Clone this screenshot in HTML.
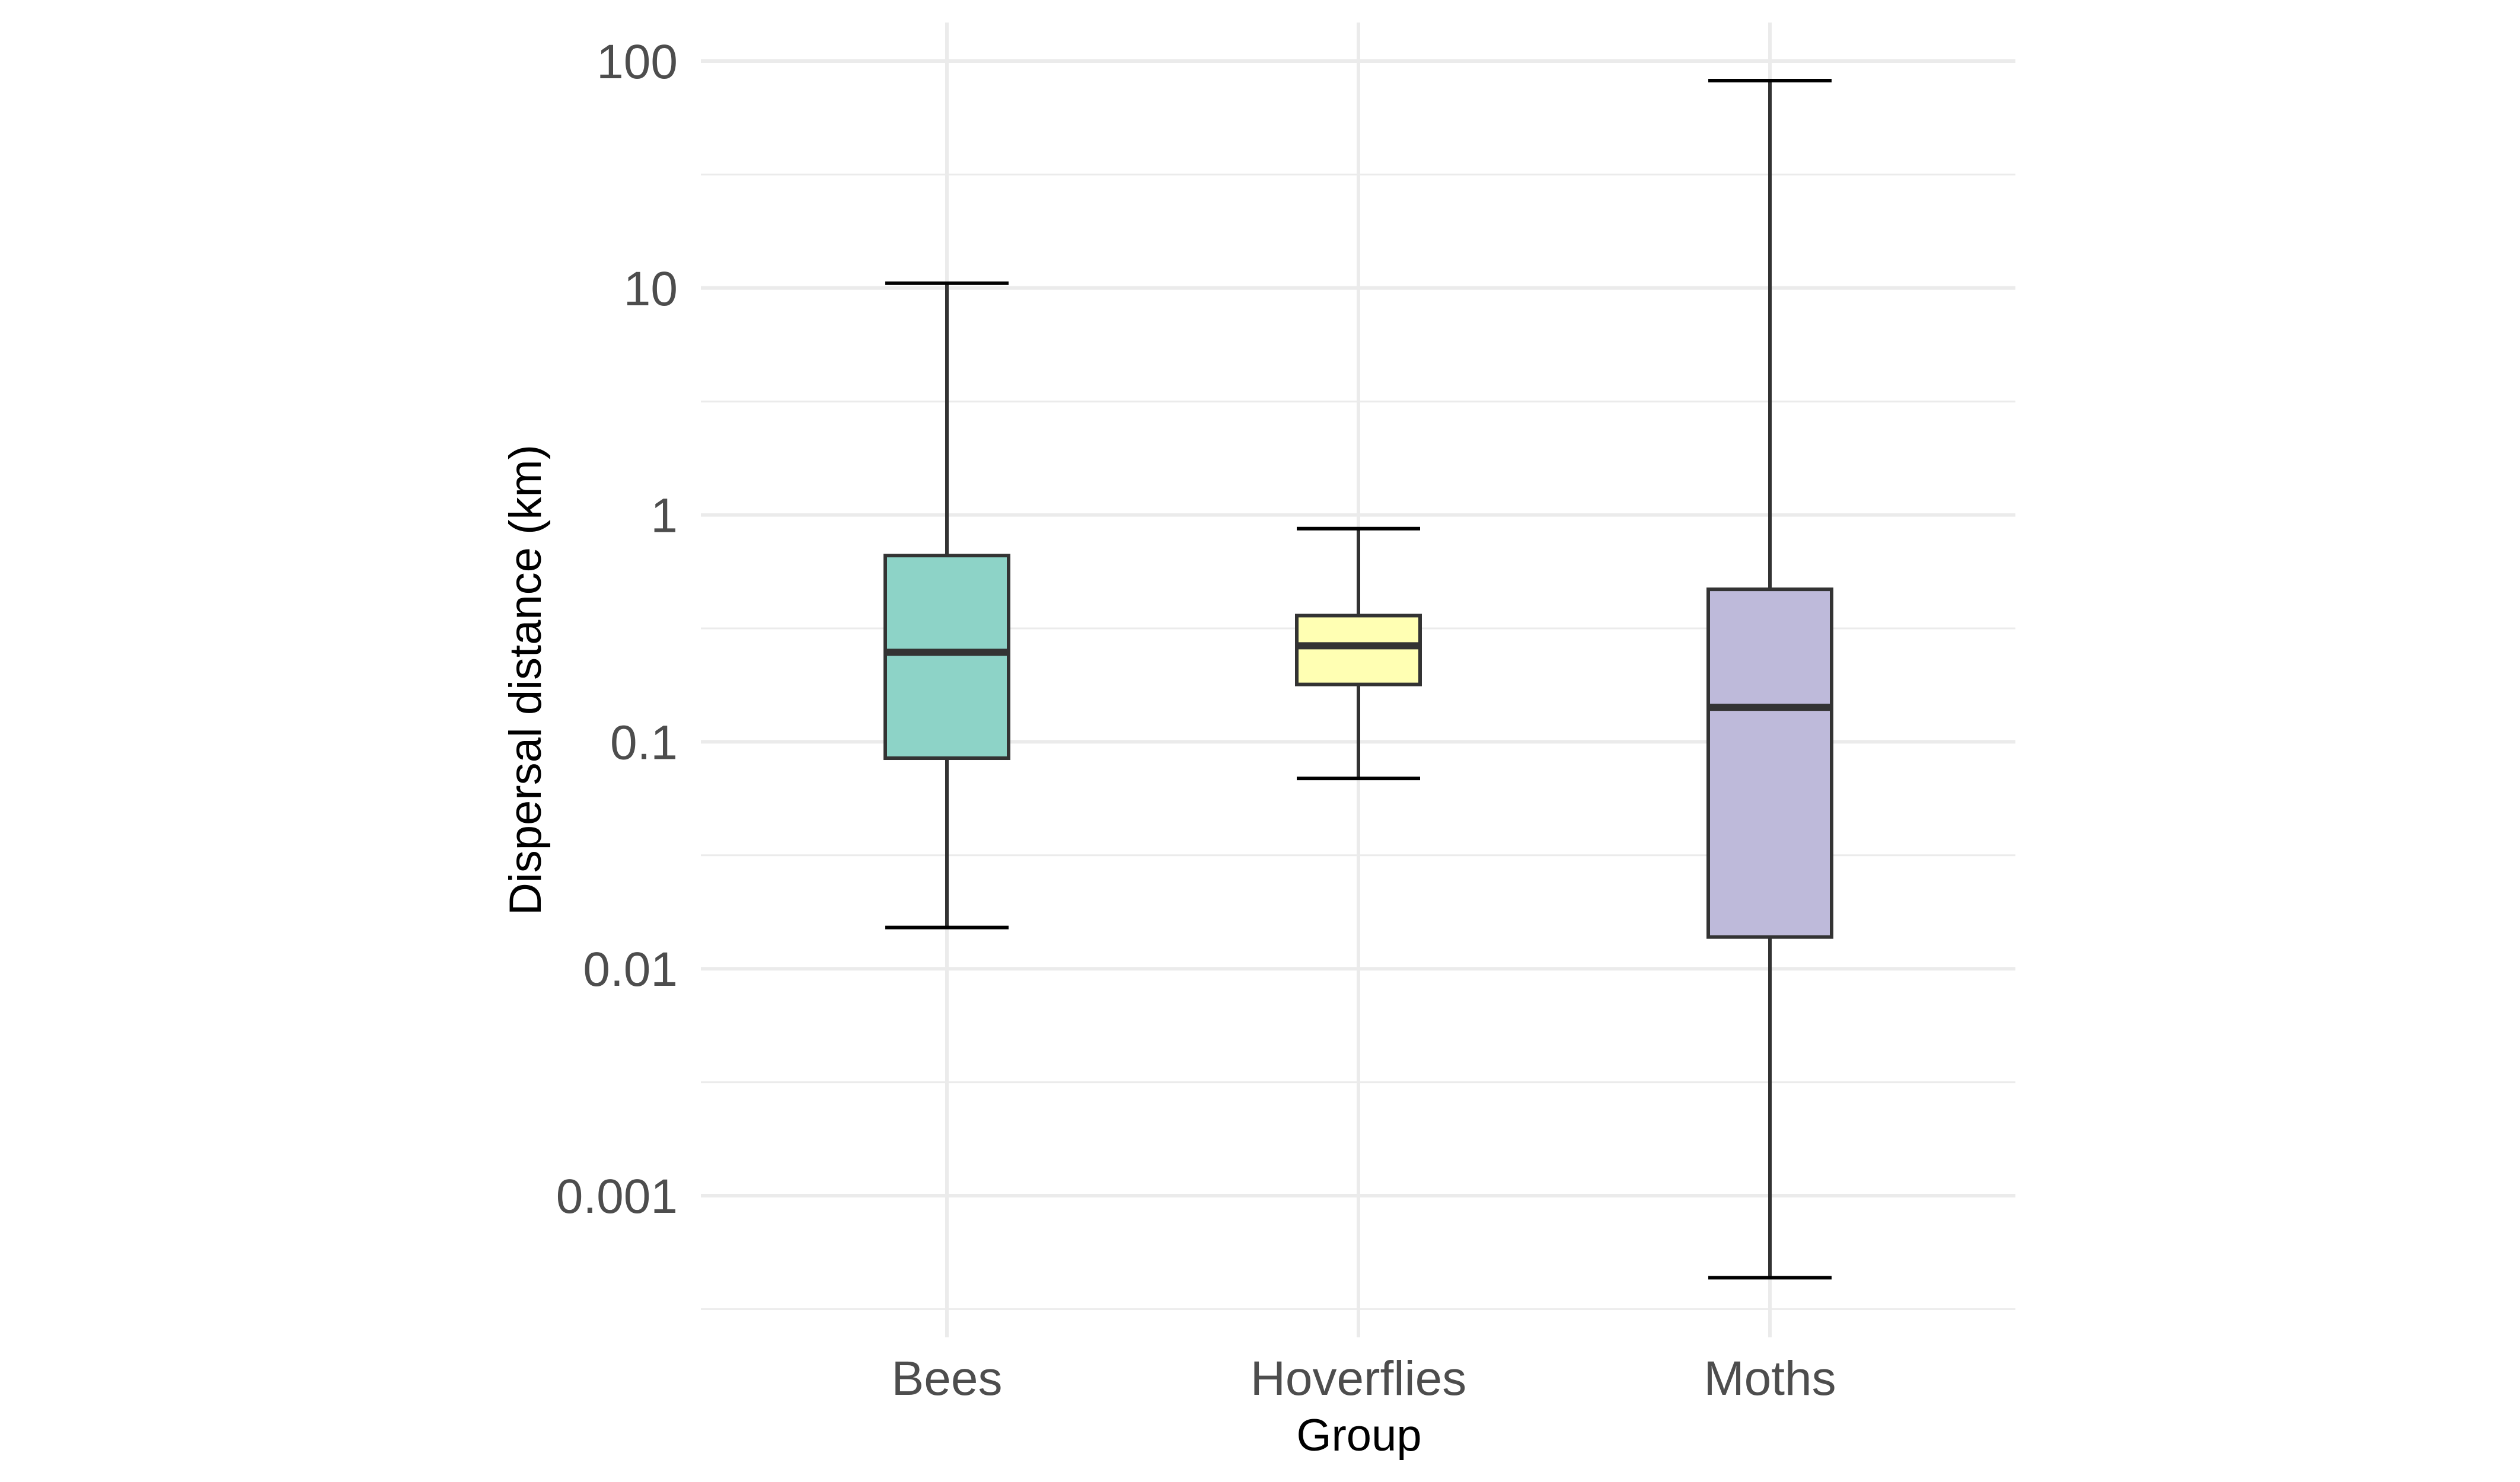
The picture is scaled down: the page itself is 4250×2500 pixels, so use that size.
<!DOCTYPE html>
<html><head><meta charset="utf-8"><style>
html,body{margin:0;padding:0;background:#fff;}
svg{display:block;font-family:"Liberation Sans",Arial,sans-serif;}
</style></head><body>
<svg id="chart" width="4250" height="2500" viewBox="0 0 4250 2500">
<g id="grid"></g>
<g id="boxes"></g>
<g id="axes"></g>
<text x="2292" y="2447" font-size="76" fill="#000" text-anchor="middle">Group</text>
<text x="0" y="0" font-size="76" fill="#000" text-anchor="middle" transform="translate(912,1147) rotate(-90)">Dispersal distance (km)</text>
</svg>
<script>
const categories = ["Bees","Hoverflies","Moths"];
const whiskerLow = [0.0152, 0.069, 0.000435];
const q1 = [0.0847, 0.179, 0.0138];
const median = [0.248, 0.265, 0.142];
const q3 = [0.662, 0.36, 0.47];
const whiskerHigh = [10.5, 0.87, 82];
const fills = ["#8DD3C7","#FFFFB3","#BEBADA"];
const yTicks = [100, 10, 1, 0.1, 0.01, 0.001];
const yTickLabels = ["100","10","1","0.1","0.01","0.001"];

const NS = "http://www.w3.org/2000/svg";
const plotLeft = 1182, plotRight = 3399, plotTop = 38, plotBottom = 2256;
const y100 = 103, decade = 382.8;
function yScale(v){ return y100 + (2 - Math.log10(v)) * decade; }
function xScale(i){ return 1597 + i * 694; }
function mk(tag, attrs, parent){
  const e = document.createElementNS(NS, tag);
  for (const k in attrs) e.setAttribute(k, attrs[k]);
  parent.appendChild(e); return e;
}
const gridG = document.getElementById('grid');
const boxesG = document.getElementById('boxes');
const axesG = document.getElementById('axes');

for (let k = 2.5; k >= -3.5; k -= 1) {
  const yy = yScale(Math.pow(10, k));
  if (yy < plotTop || yy > plotBottom) continue;
  const l = mk('line', {x1:plotLeft, x2:plotRight, y1:yy, y2:yy, stroke:'#ebebeb', 'stroke-width':3}, gridG);
  
  
}
yTicks.forEach((t, i) => {
  const yy = yScale(t);
  const l = mk('line', {x1:plotLeft, x2:plotRight, y1:yy, y2:yy, stroke:'#ebebeb', 'stroke-width':6}, gridG);
  
  
  const tx = mk('text', {x:1143, y:yy + 29, 'font-size':82, fill:'#4d4d4d', 'text-anchor':'end'}, axesG);
  tx.textContent = yTickLabels[i];
  
  
});
categories.forEach((c, i) => {
  const l = mk('line', {x1:xScale(i), x2:xScale(i), y1:plotTop, y2:plotBottom, stroke:'#ebebeb', 'stroke-width':6}, gridG);
  
  
  const tx = mk('text', {x:xScale(i), y:2353, 'font-size':82, fill:'#4d4d4d', 'text-anchor':'middle'}, axesG);
  tx.textContent = c;
  
  
});
const halfW = 104, capHalf = 104;
categories.forEach((c, i) => {
  const g = mk('g', {}, boxesG);
  
  
  const cx = xScale(i);
  const w1 = mk('line', {x1:cx, x2:cx, y1:yScale(whiskerHigh[i]), y2:yScale(q3[i]), stroke:'#333', 'stroke-width':6}, g);
  
  
  const w2 = mk('line', {x1:cx, x2:cx, y1:yScale(q1[i]), y2:yScale(whiskerLow[i]), stroke:'#333', 'stroke-width':6}, g);
  
  
  const c1 = mk('line', {x1:cx-capHalf, x2:cx+capHalf, y1:yScale(whiskerHigh[i]), y2:yScale(whiskerHigh[i]), stroke:'#000', 'stroke-width':6}, g);
  
  
  const c2 = mk('line', {x1:cx-capHalf, x2:cx+capHalf, y1:yScale(whiskerLow[i]), y2:yScale(whiskerLow[i]), stroke:'#000', 'stroke-width':6}, g);
  
  
  const r = mk('rect', {x:cx-halfW, y:yScale(q3[i]), width:halfW*2, height:yScale(q1[i])-yScale(q3[i]), fill:fills[i], stroke:'#333', 'stroke-width':6}, g);
  
  
  const m = mk('line', {x1:cx-halfW, x2:cx+halfW, y1:yScale(median[i]), y2:yScale(median[i]), stroke:'#333', 'stroke-width':12}, g);
  
  
});
</script>
</body></html>
